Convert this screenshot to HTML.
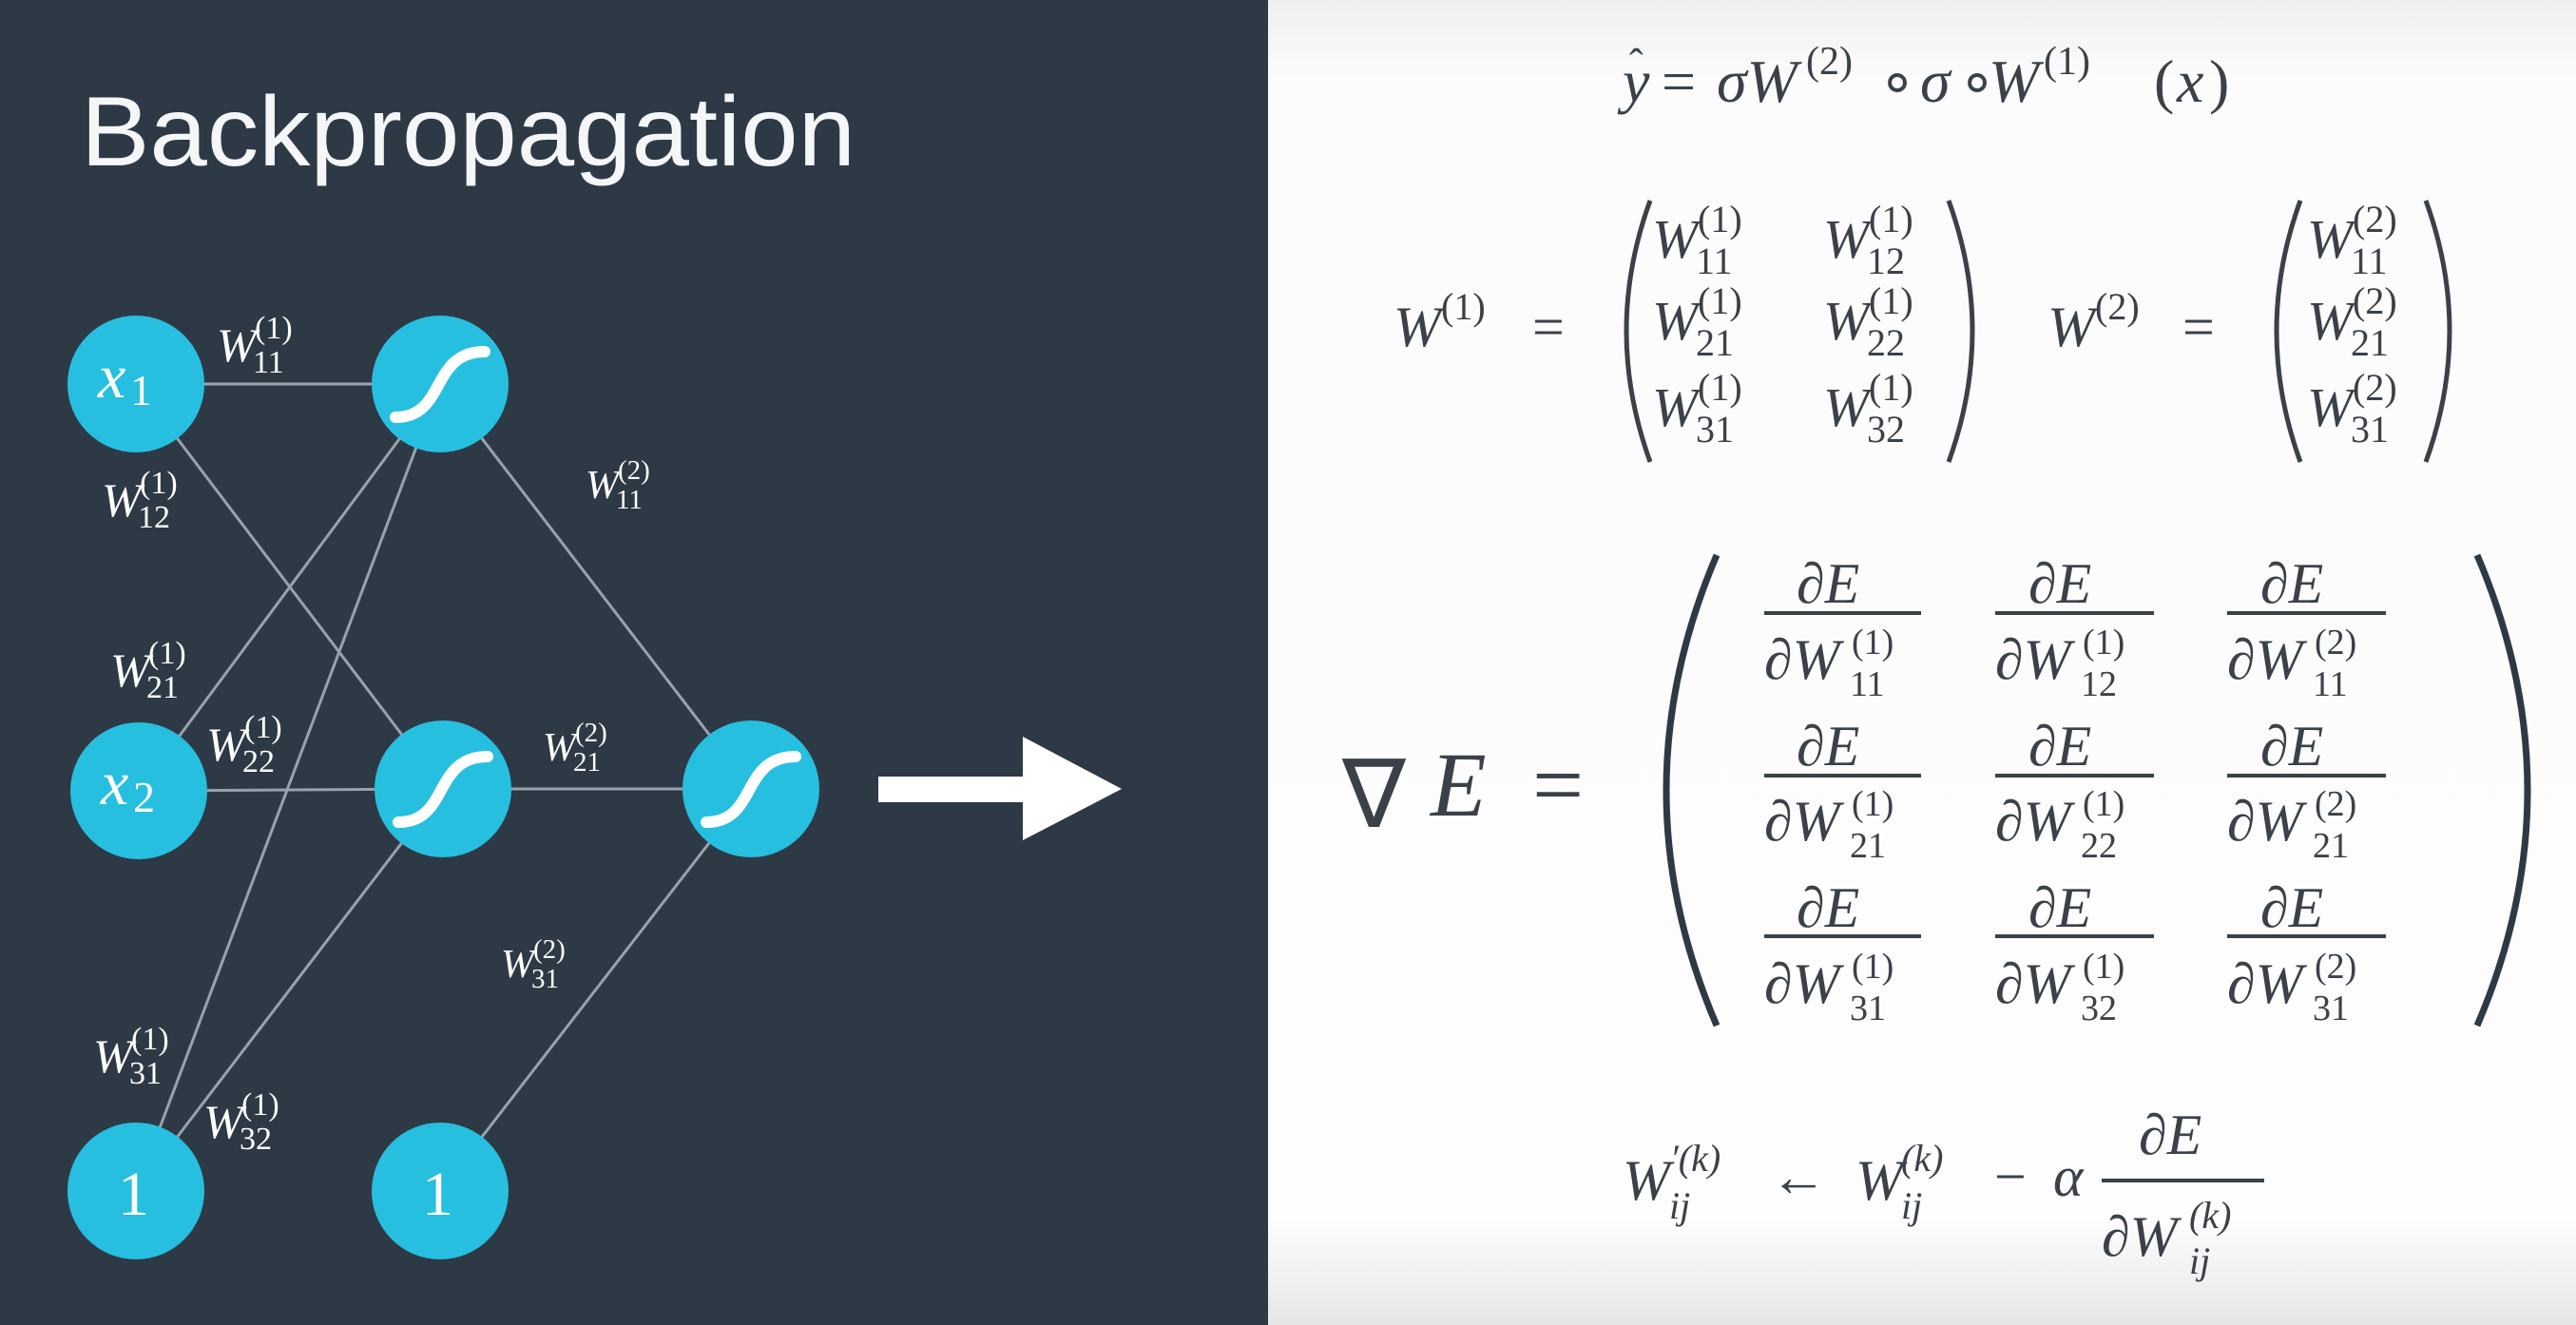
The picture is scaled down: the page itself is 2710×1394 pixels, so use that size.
<!DOCTYPE html>
<html><head><meta charset="utf-8"><style>
html,body{margin:0;padding:0;width:2710px;height:1394px;overflow:hidden;background:#fff}
svg{display:block}
.s{font-family:"Liberation Serif",serif}
.i{font-family:"Liberation Serif",serif;font-style:italic}
</style></head><body>
<svg width="2710" height="1394" viewBox="0 0 2710 1394" xmlns="http://www.w3.org/2000/svg">
<defs>
<linearGradient id="g" x1="0" y1="0" x2="0" y2="1">
<stop offset="0" stop-color="#efefef"/><stop offset="0.06" stop-color="#fcfcfc"/><stop offset="0.92" stop-color="#fdfdfd"/><stop offset="1" stop-color="#e6e6e6"/>
</linearGradient>
</defs>
<rect x="0" y="0" width="2710" height="1394" fill="url(#g)"/>
<rect x="0" y="0" width="1334" height="1394" fill="#2e3946"/>
<text x="85" y="174" font-family="Liberation Sans, sans-serif" font-size="104" fill="#f4f6f8" textLength="815" lengthAdjust="spacingAndGlyphs">Backpropagation</text>

<g stroke="#98a2ac" stroke-width="3">
<line x1="143" y1="404" x2="463" y2="404"/>
<line x1="143" y1="404" x2="466" y2="830"/>
<line x1="146" y1="832" x2="463" y2="404"/>
<line x1="146" y1="832" x2="466" y2="830"/>
<line x1="143" y1="1253" x2="463" y2="404"/>
<line x1="143" y1="1253" x2="466" y2="830"/>
<line x1="463" y1="404" x2="790" y2="830"/>
<line x1="466" y1="830" x2="790" y2="830"/>
<line x1="463" y1="1253" x2="790" y2="830"/>
</g>
<g fill="#27bfdf">
<circle cx="143" cy="404" r="72"/><circle cx="463" cy="404" r="72"/>
<circle cx="146" cy="832" r="72"/><circle cx="466" cy="830" r="72"/>
<circle cx="790" cy="830" r="72"/>
<circle cx="143" cy="1253" r="72"/><circle cx="463" cy="1253" r="72"/>
</g>
<g stroke="#fff" stroke-width="12" fill="none" stroke-linecap="round">
<path d="M416 439 C470 439 452 370 510 370"/>
<path d="M419 865 C473 865 455 796 513 796"/>
<path d="M743 865 C797 865 779 796 837 796"/>
</g>
<g fill="#fff">
<text class="i" x="103" y="418" font-size="66">x</text><text class="s" x="137" y="426" font-size="46">1</text>
<text class="i" x="106" y="846" font-size="66">x</text><text class="s" x="140" y="854" font-size="46">2</text>
<text class="s" x="124" y="1278" font-size="66">1</text>
<text class="s" x="444" y="1278" font-size="66">1</text>
</g>
<polygon points="924,817 1076,817 1076,775 1180,830 1076,884 1076,844 924,844" fill="#fff"/>

<g fill="#fff">
<text class="i" x="228" y="380" font-size="50">W</text><text class="s" x="268" y="356" font-size="34">(1)</text><text class="s" x="266" y="392" font-size="34">11</text>
<text class="i" x="107" y="543" font-size="50">W</text><text class="s" x="147" y="519" font-size="34">(1)</text><text class="s" x="145" y="555" font-size="34">12</text>
<text class="i" x="616" y="524" font-size="42">W</text><text class="s" x="650" y="504" font-size="29">(2)</text><text class="s" x="648" y="535" font-size="29">11</text>
<text class="i" x="116" y="722" font-size="50">W</text><text class="s" x="156" y="698" font-size="34">(1)</text><text class="s" x="154" y="734" font-size="34">21</text>
<text class="i" x="217" y="800" font-size="50">W</text><text class="s" x="257" y="776" font-size="34">(1)</text><text class="s" x="255" y="812" font-size="34">22</text>
<text class="i" x="571" y="800" font-size="42">W</text><text class="s" x="605" y="780" font-size="29">(2)</text><text class="s" x="603" y="811" font-size="29">21</text>
<text class="i" x="527" y="1028" font-size="42">W</text><text class="s" x="561" y="1008" font-size="29">(2)</text><text class="s" x="559" y="1039" font-size="29">31</text>
<text class="i" x="98" y="1128" font-size="50">W</text><text class="s" x="138" y="1104" font-size="34">(1)</text><text class="s" x="136" y="1140" font-size="34">31</text>
<text class="i" x="214" y="1197" font-size="50">W</text><text class="s" x="254" y="1173" font-size="34">(1)</text><text class="s" x="252" y="1209" font-size="34">32</text>
</g>

<g fill="#3a4149">
<!-- top formula -->
<text class="i" x="1707" y="107" font-size="64">y</text><text class="s" x="1714" y="82" font-size="44">ˆ</text>
<text class="s" x="1748" y="107" font-size="64">=</text>
<text class="i" x="1806" y="107" font-size="64">σW</text><text class="s" x="1900" y="78" font-size="42">(2)</text>
<text class="s" x="1976" y="107" font-size="64">∘</text>
<text class="i" x="2020" y="107" font-size="64">σ</text>
<text class="s" x="2060" y="107" font-size="64">∘</text>
<text class="i" x="2092" y="107" font-size="64">W</text><text class="s" x="2150" y="78" font-size="42">(1)</text>
<text class="s" x="2266" y="107" font-size="64">(</text><text class="i" x="2290" y="107" font-size="64">x</text><text class="s" x="2324" y="107" font-size="64">)</text>

<!-- W1 matrix -->
<text class="i" x="1466" y="364" font-size="60">W</text><text class="s" x="1516" y="336" font-size="40">(1)</text>
<text class="s" x="1612" y="364" font-size="60">=</text>
<path d="M1736 211 Q1686 348 1736 486" stroke="#3a4149" stroke-width="5" fill="none"/>
<path d="M2050 211 Q2100 348 2050 486" stroke="#3a4149" stroke-width="5" fill="none"/>
<text class="i" x="1738" y="271" font-size="58">W</text><text class="s" x="1786" y="244" font-size="40">(1)</text><text class="s" x="1784" y="288" font-size="40">11</text>
<text class="i" x="1918" y="271" font-size="58">W</text><text class="s" x="1966" y="244" font-size="40">(1)</text><text class="s" x="1964" y="288" font-size="40">12</text>
<text class="i" x="1738" y="357" font-size="58">W</text><text class="s" x="1786" y="330" font-size="40">(1)</text><text class="s" x="1784" y="374" font-size="40">21</text>
<text class="i" x="1918" y="357" font-size="58">W</text><text class="s" x="1966" y="330" font-size="40">(1)</text><text class="s" x="1964" y="374" font-size="40">22</text>
<text class="i" x="1738" y="448" font-size="58">W</text><text class="s" x="1786" y="421" font-size="40">(1)</text><text class="s" x="1784" y="465" font-size="40">31</text>
<text class="i" x="1918" y="448" font-size="58">W</text><text class="s" x="1966" y="421" font-size="40">(1)</text><text class="s" x="1964" y="465" font-size="40">32</text>
<!-- W2 matrix -->
<text class="i" x="2154" y="364" font-size="60">W</text><text class="s" x="2204" y="336" font-size="40">(2)</text>
<text class="s" x="2296" y="364" font-size="60">=</text>
<path d="M2420 211 Q2370 348 2420 486" stroke="#3a4149" stroke-width="5" fill="none"/>
<path d="M2552 211 Q2602 348 2552 486" stroke="#3a4149" stroke-width="5" fill="none"/>
<text class="i" x="2427" y="271" font-size="58">W</text><text class="s" x="2475" y="244" font-size="40">(2)</text><text class="s" x="2473" y="288" font-size="40">11</text>
<text class="i" x="2427" y="357" font-size="58">W</text><text class="s" x="2475" y="330" font-size="40">(2)</text><text class="s" x="2473" y="374" font-size="40">21</text>
<text class="i" x="2427" y="448" font-size="58">W</text><text class="s" x="2475" y="421" font-size="40">(2)</text><text class="s" x="2473" y="465" font-size="40">31</text>

<!-- gradient -->
<text class="s" x="1412" y="870" font-size="100">∇</text>
<text class="i" x="1505" y="858" font-size="96">E</text>
<text class="s" x="1612" y="858" font-size="96">=</text>
<path d="M1806 584 Q1700 832 1806 1079" stroke="#2e3946" stroke-width="7" fill="none"/>
<path d="M2606 584 Q2712 832 2606 1079" stroke="#2e3946" stroke-width="7" fill="none"/>
</g>
<g fill="#3a4149">
<rect x="1856" y="643" width="165" height="4"/><rect x="2099" y="643" width="167" height="4"/><rect x="2343" y="643" width="167" height="4"/>
<text class="i" x="1890" y="634" font-size="60">∂E</text><text class="i" x="2134" y="634" font-size="60">∂E</text><text class="i" x="2378" y="634" font-size="60">∂E</text>
<text class="i" x="1856" y="714" font-size="60">∂W</text><text class="s" x="1948" y="688" font-size="38">(1)</text><text class="s" x="1946" y="732" font-size="38">11</text>
<text class="i" x="2099" y="714" font-size="60">∂W</text><text class="s" x="2191" y="688" font-size="38">(1)</text><text class="s" x="2189" y="732" font-size="38">12</text>
<text class="i" x="2343" y="714" font-size="60">∂W</text><text class="s" x="2435" y="688" font-size="38">(2)</text><text class="s" x="2433" y="732" font-size="38">11</text>
<rect x="1856" y="814" width="165" height="4"/><rect x="2099" y="814" width="167" height="4"/><rect x="2343" y="814" width="167" height="4"/>
<text class="i" x="1890" y="805" font-size="60">∂E</text><text class="i" x="2134" y="805" font-size="60">∂E</text><text class="i" x="2378" y="805" font-size="60">∂E</text>
<text class="i" x="1856" y="884" font-size="60">∂W</text><text class="s" x="1948" y="858" font-size="38">(1)</text><text class="s" x="1946" y="902" font-size="38">21</text>
<text class="i" x="2099" y="884" font-size="60">∂W</text><text class="s" x="2191" y="858" font-size="38">(1)</text><text class="s" x="2189" y="902" font-size="38">22</text>
<text class="i" x="2343" y="884" font-size="60">∂W</text><text class="s" x="2435" y="858" font-size="38">(2)</text><text class="s" x="2433" y="902" font-size="38">21</text>
<rect x="1856" y="983" width="165" height="4"/><rect x="2099" y="983" width="167" height="4"/><rect x="2343" y="983" width="167" height="4"/>
<text class="i" x="1890" y="975" font-size="60">∂E</text><text class="i" x="2134" y="975" font-size="60">∂E</text><text class="i" x="2378" y="975" font-size="60">∂E</text>
<text class="i" x="1856" y="1055" font-size="60">∂W</text><text class="s" x="1948" y="1029" font-size="38">(1)</text><text class="s" x="1946" y="1073" font-size="38">31</text>
<text class="i" x="2099" y="1055" font-size="60">∂W</text><text class="s" x="2191" y="1029" font-size="38">(1)</text><text class="s" x="2189" y="1073" font-size="38">32</text>
<text class="i" x="2343" y="1055" font-size="60">∂W</text><text class="s" x="2435" y="1029" font-size="38">(2)</text><text class="s" x="2433" y="1073" font-size="38">31</text>

<text class="i" x="1707" y="1262" font-size="60">W</text><text class="i" x="1757" y="1232" font-size="40">′(k)</text><text class="i" x="1756" y="1282" font-size="40">ij</text>
<text class="s" x="1862" y="1258" font-size="60">←</text>
<text class="i" x="1952" y="1262" font-size="60">W</text><text class="i" x="2000" y="1232" font-size="40">(k)</text><text class="i" x="2000" y="1282" font-size="40">ij</text>
<text class="s" x="2098" y="1258" font-size="60">−</text>
<text class="i" x="2160" y="1258" font-size="60">α</text>
<rect x="2211" y="1240" width="171" height="4"/>
<text class="i" x="2250" y="1214" font-size="60">∂E</text>
<text class="i" x="2211" y="1321" font-size="60">∂W</text><text class="i" x="2303" y="1292" font-size="40">(k)</text><text class="i" x="2303" y="1340" font-size="40">ij</text>
</g>
</svg>
</body></html>
